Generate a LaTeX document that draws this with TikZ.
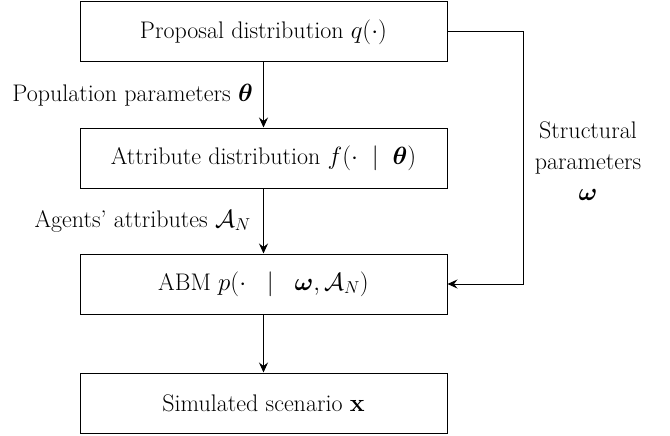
\documentclass[tikz,border=0pt]{standalone}
\usepackage{amsmath,bm}
\usetikzlibrary{arrows.meta}
\begin{document}
\begin{tikzpicture}[x=1pt,y=-1pt,
  every node/.style={font=\fontsize{24}{31}\selectfont},
  stage/.style={draw, line width=1pt, minimum width=367pt, minimum height=60pt, inner sep=0pt},
  flow/.style={line width=1pt, -{Stealth[length=10pt,width=9pt,inset=3.5pt]}},
  lbl/.style={inner sep=0pt}]
\useasboundingbox (0,0) rectangle (670,436);
\node[stage] (prop) at (263.5,32) {Proposal distribution $q(\cdot)$};
\node[stage] (attr) at (263.5,158) {Attribute distribution $f(\cdot\;\mid\;\bm{\theta})$};
\node[stage] (abm)  at (263.5,284) {ABM $p(\cdot\;\;\mid\;\;\bm{\omega},\mathcal{A}_N)$};
\node[stage] (sim)  at (263.5,403) {Simulated scenario $\mathbf{x}$};
\coordinate (bend1) at (523,32);
\coordinate (bend2) at (523,284);
\draw[flow] (prop) -- (attr);
\draw[flow] (attr) -- (abm);
\draw[flow] (abm) -- (sim);
\draw[flow] (prop.east) -- (bend1) -- (bend2) -- (abm.east);
\node[lbl, anchor=east] (plbl) at (253,95) {Population parameters $\bm{\theta}$};
\node[lbl, anchor=east] (albl) at (251,221) {Agents' attributes $\mathcal{A}_N$};
\node[lbl, align=center] (slbl) at (588,161) {Structural\\parameters\\$\bm{\omega}$};
\end{tikzpicture}
\end{document}
